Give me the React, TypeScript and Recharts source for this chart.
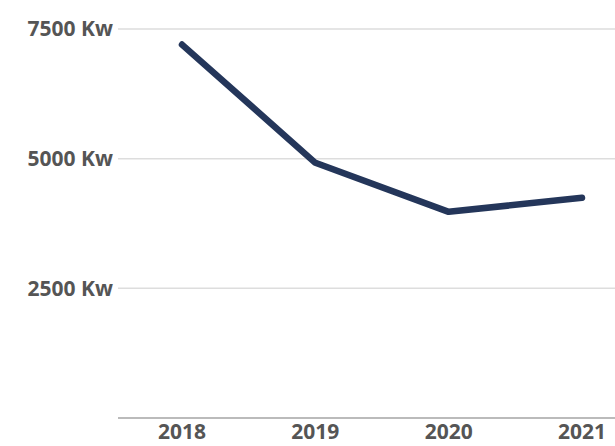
import { LineChart, Line, XAxis, YAxis, CartesianGrid } from 'recharts';

const YEARS = ['2018', '2019', '2020', '2021'];
const POWER_KW = [7200, 4920, 3975, 4245];
const Y_TICKS = [2500, 5000, 7500];

const data = YEARS.map((year, i) => ({ year, kw: POWER_KW[i] }));

const tickStyle = {
  fill: '#555555',
  fontSize: 21,
  fontWeight: 700,
  fontFamily: '"Open Sans", sans-serif',
};

export default function App() {
  return (
    <div style={{ position: 'absolute', left: 0, top: 0, width: 615, height: 446, background: '#fff' }}>
      <LineChart width={615} height={446} data={data} margin={{ top: 29, right: 0, bottom: 0, left: 0 }}>
        <CartesianGrid horizontal vertical={false} stroke="#dddddd" strokeWidth={1.5} />
        <XAxis
          dataKey="year"
          height={28}
          padding={{ left: 64, right: 33 }}
          axisLine={{ stroke: '#bbbbbb', strokeWidth: 2 }}
          tickLine={false}
          tickSize={0}
          tickMargin={6}
          tick={tickStyle}
        />
        <YAxis
          width={118}
          domain={[0, 7500]}
          ticks={Y_TICKS}
          axisLine={false}
          tickLine={false}
          tickSize={0}
          tickMargin={5}
          tick={tickStyle}
          tickFormatter={(v) => `${v} Kw`}
        />
        <Line
          type="linear"
          dataKey="kw"
          stroke="#24365a"
          strokeWidth={6.5}
          strokeLinecap="round"
          strokeLinejoin="round"
          dot={false}
          activeDot={false}
          isAnimationActive={false}
        />
      </LineChart>
    </div>
  );
}
